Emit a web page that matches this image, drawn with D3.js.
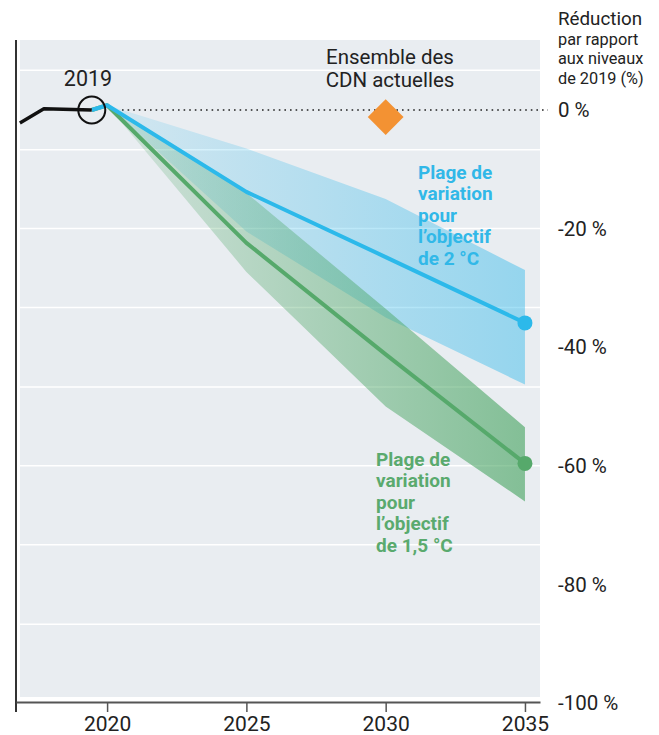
<!DOCTYPE html>
<html>
<head>
<meta charset="utf-8">
<script src="https://cdn.jsdelivr.net/npm/d3@7"></script>
<style>
  body { margin: 0; background: #fff; }
  svg { display: block; font-family: Roboto, "Noto Sans", sans-serif; }
</style>
</head>
<body>
<svg width="659" height="735"></svg>
<script>
// data (reduction vs 2019 levels, %)
var histYears = [2016.87, 2017.73, 2019.45];
var histValues = [-2.2, 0.2, 0];

var pathYears = [2019.45, 2020, 2025, 2030, 2035];
var twoLine = [0, 0.8, -13.8, -24.8, -35.9];
var twoUpper = [0, 0.8, -6.5, -15, -27];
var twoLower = [0, 0.8, -20.5, -35, -46.3];
var oneFiveLine = [0, 0.8, -22.4, -41.2, -59.6];
var oneFiveUpper = [0, 0.8, -14, -33.5, -53.5];
var oneFiveLower = [0, 0.8, -27.3, -50, -66];

var ndcYear = 2030, ndcValue = -1.2;

var xTicks = [2020, 2025, 2030, 2035];
var yTicks = [0, -20, -40, -60, -80, -100];
var gridValues = [6.7, -6.7, -20, -33.3, -46.7, -60, -73.3, -86.7];

var svg = d3.select("svg");

// scales in page pixels
var x = d3.scaleLinear().domain([2016.73, 2035.54]).range([16, 540]);
var y = d3.scaleLinear().domain([0, -100]).range([110, 703]);

var blue = "#2cb9ea", green = "#56a96b";

// gradients for the ranges
var defs = svg.append("defs");
function grad(id, color, o0, o1) {
  var g = defs.append("linearGradient").attr("id", id)
      .attr("gradientUnits", "userSpaceOnUse")
      .attr("x1", x(2020)).attr("x2", x(2035)).attr("y1", 0).attr("y2", 0);
  g.append("stop").attr("offset", 0).attr("stop-color", color).attr("stop-opacity", o0);
  g.append("stop").attr("offset", 1).attr("stop-color", color).attr("stop-opacity", o1);
}
grad("gBlue", "#2fb8ea", 0.12, 0.45);
grad("gGreen", "#45a35f", 0.15, 0.62);

// panel
svg.append("rect")
    .attr("x", 20).attr("y", 40)
    .attr("width", 520).attr("height", 657)
    .attr("fill", "#e9edf1");

// gridlines
svg.append("g").selectAll("line")
    .data(gridValues)
    .enter().append("line")
      .attr("x1", 20).attr("x2", 550)
      .attr("y1", function(d) { return y(d); })
      .attr("y2", function(d) { return y(d); })
      .attr("stroke", "#fff")
      .attr("stroke-width", 1.5);

// zero reference (dotted)
svg.append("line")
    .attr("x1", 122).attr("x2", 548)
    .attr("y1", y(0)).attr("y2", y(0))
    .attr("stroke", "#222")
    .attr("stroke-width", 1.6)
    .attr("stroke-dasharray", "1.6,4");

function rows(lo, hi) {
  return pathYears.map(function(yr, i) { return {year: yr, lo: lo[i], hi: hi[i]}; });
}
var area = d3.area()
    .x(function(d) { return x(d.year); })
    .y0(function(d) { return y(d.lo); })
    .y1(function(d) { return y(d.hi); });

svg.append("path")
    .datum(rows(twoLower, twoUpper))
    .attr("fill", "url(#gBlue)")
    .attr("d", area);

svg.append("path")
    .datum(rows(oneFiveLower, oneFiveUpper))
    .attr("fill", "url(#gGreen)")
    .attr("d", area);

var line = d3.line()
    .x(function(d) { return x(d[0]); })
    .y(function(d) { return y(d[1]); });

svg.append("path")
    .datum(d3.zip(pathYears, oneFiveLine))
    .attr("fill", "none").attr("stroke", green)
    .attr("stroke-width", 4).attr("stroke-linejoin", "round")
    .attr("d", line);

svg.append("path")
    .datum(d3.zip(pathYears, twoLine))
    .attr("fill", "none").attr("stroke", blue)
    .attr("stroke-width", 4).attr("stroke-linejoin", "round")
    .attr("d", line);

// end dots
svg.append("circle")
    .attr("cx", x(2035)).attr("cy", y(twoLine[4])).attr("r", 7.5).attr("fill", blue);
svg.append("circle")
    .attr("cx", x(2035)).attr("cy", y(oneFiveLine[4])).attr("r", 7.5).attr("fill", green);

// historical line
svg.append("path")
    .datum(d3.zip(histYears, histValues))
    .attr("fill", "none").attr("stroke", "#111")
    .attr("stroke-width", 3.4).attr("stroke-linejoin", "round")
    .attr("d", line);

// 2019 marker
svg.append("circle")
    .attr("cx", x(2019.45)).attr("cy", y(0)).attr("r", 13.5)
    .attr("fill", "none").attr("stroke", "#111").attr("stroke-width", 2);
svg.append("text")
    .attr("x", 88).attr("y", 78).attr("dy", "0.35em")
    .attr("text-anchor", "middle")
    .attr("font-size", 21.5).attr("fill", "#222")
    .text("2019");

// NDC diamond
svg.append("path")
    .attr("d", d3.symbol().type(d3.symbolSquare).size(640)())
    .attr("transform", "translate(" + x(ndcYear) + "," + y(ndcValue) + ") rotate(45)")
    .attr("fill", "#f39233");
svg.append("text")
    .attr("x", 390).attr("y", 57).attr("dy", "0.35em")
    .attr("text-anchor", "middle").attr("font-size", 20.5).attr("fill", "#222")
    .text("Ensemble des");
svg.append("text")
    .attr("x", 390).attr("y", 80).attr("dy", "0.35em")
    .attr("text-anchor", "middle").attr("font-size", 20.5).attr("fill", "#222")
    .text("CDN actuelles");

// range labels
function label(lines, px, py, color) {
  svg.append("g").selectAll("text")
      .data(lines)
      .enter().append("text")
        .attr("x", px)
        .attr("y", function(d, i) { return py + i * 21.5; })
        .attr("dy", "0.35em")
        .attr("font-size", 19).attr("font-weight", "bold")
        .attr("fill", color)
        .text(function(d) { return d; });
}
label(["Plage de", "variation", "pour", "l\u2019objectif", "de 2 °C"], 418, 172, "#31b8e8");
label(["Plage de", "variation", "pour", "l\u2019objectif", "de 1,5 °C"], 376, 459, "#5aaa6e");

// left axis line
svg.append("line")
    .attr("x1", 16).attr("x2", 16).attr("y1", 40).attr("y2", 712)
    .attr("stroke", "#333").attr("stroke-width", 2);

// bottom axis
var xAxis = svg.append("g")
    .attr("transform", "translate(0,702)")
    .call(d3.axisBottom(x).tickValues(xTicks).tickFormat(d3.format("d")).tickSize(10).tickSizeOuter(0));
xAxis.select(".domain").attr("stroke", "#555").attr("stroke-width", 2);
xAxis.selectAll(".tick line").attr("stroke", "#555").attr("stroke-width", 1.5);
xAxis.selectAll(".tick text")
    .attr("font-family", "Roboto, sans-serif")
    .attr("font-size", 21).attr("fill", "#222").attr("y", 14);

// right value labels
svg.append("g").selectAll("text")
    .data(yTicks)
    .enter().append("text")
      .attr("x", 558)
      .attr("y", function(d) { return y(d); })
      .attr("dy", "0.35em")
      .attr("font-size", 20.5).attr("fill", "#222")
      .text(function(d) { return d + " %"; });

// header of the value labels
svg.append("text")
    .attr("x", 558).attr("y", 18).attr("dy", "0.35em")
    .attr("font-size", 18.8).attr("fill", "#222")
    .text("Réduction");
svg.append("g").selectAll("text")
    .data(["par rapport", "aux niveaux", "de 2019 (%)"])
    .enter().append("text")
      .attr("x", 558)
      .attr("y", function(d, i) { return 39 + i * 19.5; })
      .attr("dy", "0.35em")
      .attr("font-size", 16.3).attr("fill", "#222")
      .text(function(d) { return d; });
</script>
</body>
</html>
